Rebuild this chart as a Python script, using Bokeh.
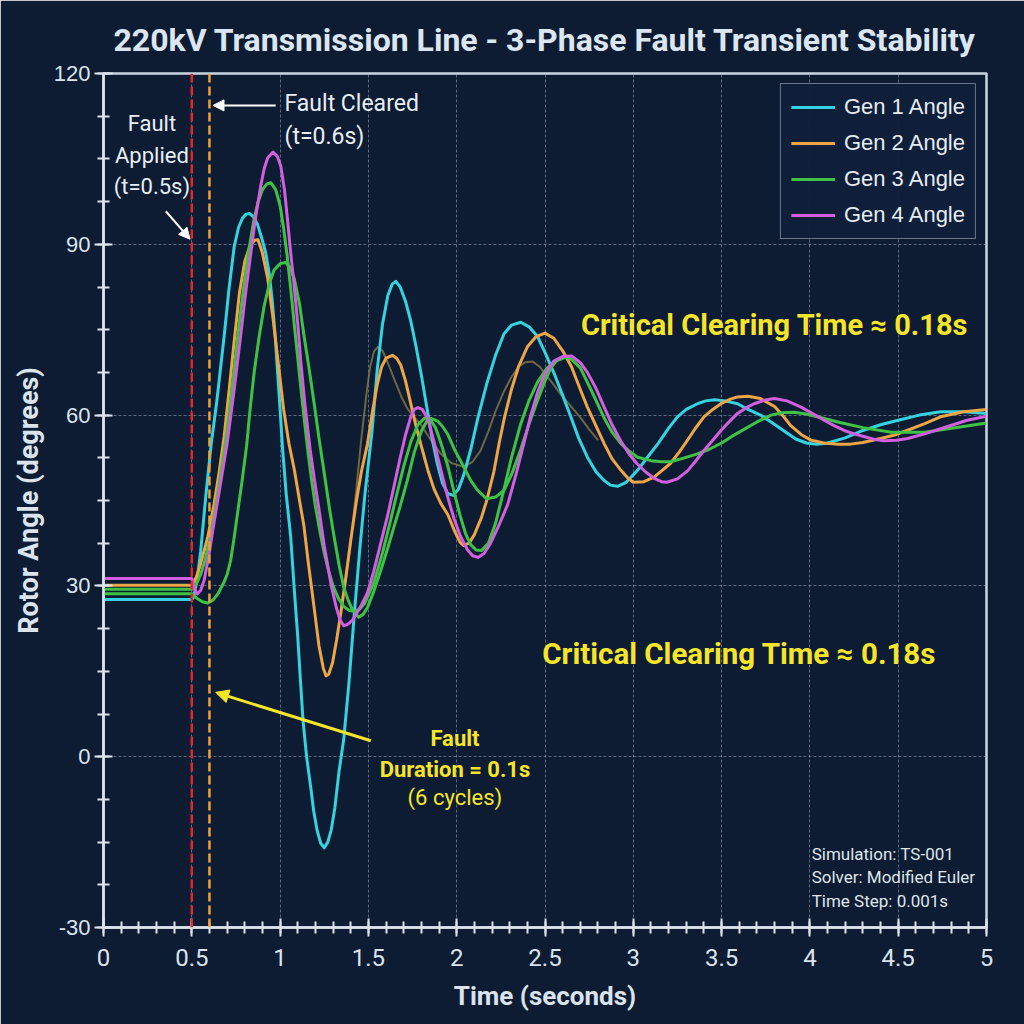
from bokeh.plotting import figure
from bokeh.models import (Legend, LegendItem, Span, Label, Arrow, NormalHead,
                          FixedTicker, Range1d, NumeralTickFormatter)
from bokeh.embed import file_html
from bokeh.resources import INLINE

# ---- rotor angle traces (time in s, angle in degrees) ----
gen1_t = [0, 0.50, 0.51, 0.53, 0.55, 0.58, 0.61, 0.64, 0.683, 0.71, 0.74, 0.765,
          0.787, 0.808, 0.828, 0.85, 0.872, 0.895, 0.919, 0.94, 0.957, 0.972, 0.985,
          1.0, 1.013, 1.035, 1.06, 1.08, 1.10, 1.115, 1.13, 1.15, 1.174, 1.19, 1.21,
          1.23, 1.25, 1.27, 1.29, 1.31, 1.334, 1.36, 1.39, 1.42, 1.45, 1.48, 1.52,
          1.55, 1.58, 1.61, 1.635, 1.655, 1.68, 1.71, 1.74, 1.77, 1.80, 1.83, 1.86,
          1.89, 1.92, 1.95, 1.98, 2.01, 2.04, 2.08, 2.12, 2.17, 2.22, 2.268, 2.31,
          2.363, 2.41, 2.458, 2.50, 2.552, 2.60, 2.646, 2.69, 2.74, 2.79, 2.835,
          2.87, 2.91, 2.96, 3.024, 3.08, 3.14, 3.20, 3.25, 3.30, 3.363, 3.41, 3.46,
          3.52, 3.59, 3.65, 3.72, 3.78, 3.85, 3.92, 3.98, 4.04, 4.10, 4.20, 4.30,
          4.40, 4.50, 4.62, 4.74, 4.87, 5.00]
gen1_a = [27.6, 27.6, 28, 31, 36, 46, 55, 62, 73.8, 82, 89.6, 93,
          94.6, 95.3, 95.4, 94.8, 93.5, 91.2, 88.4, 84.5, 79.6, 74, 67.9,
          61, 54.5, 46, 38.6, 29.5, 21, 13.5, 6.3, 0, -5.5, -9.5, -13,
          -15.2, -16, -15, -12.8, -9, -2.5, 3, 13, 25, 36, 46, 57,
          68, 76, 81, 83, 83.5, 82.5, 80, 76.5, 72, 67, 61.5, 56,
          51.5, 48, 46.2, 45.9, 47, 49.5, 54, 59.5, 65.5, 70.5, 74.3, 75.8,
          76.3, 75.5, 73.8, 71, 67.3, 63.5, 59.7, 56, 52.6, 50, 48.5,
          47.7, 47.5, 48.2, 50.3, 52.6, 55, 57.7, 59.7, 61, 62, 62.5, 62.7,
          62.5, 62, 61, 60, 58.8, 57.3, 55.8, 55.1, 54.9, 55.1, 56, 57.3,
          58.3, 59.1, 60, 60.6, 60.6, 60.3]

gen2_t = [0, 0.50, 0.525, 0.55, 0.59, 0.626, 0.655, 0.683, 0.71, 0.74, 0.77, 0.80,
          0.83, 0.855, 0.875, 0.90, 0.93, 0.96, 0.99, 1.02, 1.05, 1.08, 1.11,
          1.135, 1.16, 1.19, 1.22, 1.245, 1.26, 1.275, 1.297, 1.32, 1.345, 1.37,
          1.40, 1.43, 1.46, 1.495, 1.525, 1.551, 1.575, 1.60, 1.636, 1.66, 1.683,
          1.71, 1.74, 1.77, 1.80, 1.84, 1.872, 1.91, 1.95, 1.99, 2.02, 2.04, 2.07,
          2.10, 2.14, 2.17, 2.21, 2.24, 2.27, 2.31, 2.35, 2.40, 2.45, 2.50, 2.55,
          2.60, 2.65, 2.70, 2.74, 2.79, 2.835, 2.88, 2.93, 2.97, 3.00, 3.06, 3.118,
          3.16, 3.21, 3.26, 3.307, 3.35, 3.40, 3.45, 3.496, 3.55, 3.59, 3.65, 3.72,
          3.80, 3.85, 3.89, 3.95, 4.006, 4.08, 4.16, 4.23, 4.30, 4.40, 4.48, 4.55,
          4.65, 4.74, 4.87, 5.00]
gen2_a = [30.1, 30.1, 31.5, 33.9, 38.5, 44.4, 50, 56.2, 64, 73, 81.5, 87,
          89.8, 90.7, 90.8, 88.5, 84, 77, 69, 61, 55, 50.5, 45,
          40.5, 34, 26.8, 19.5, 15.5, 14.2, 14.5, 16.5, 20.5, 25.5, 31,
          38, 44.5, 50, 55, 61, 65.5, 68.5, 70, 70.5, 70, 68.8,
          66, 62, 58, 54.5, 50, 47, 44.5, 42.5, 39.5, 37.6, 37.1, 37.5,
          39, 42, 45, 50, 55, 59.5, 64.5, 68.5, 72, 73.8, 74.4, 73.5,
          71.3, 68.5, 64.5, 61.4, 58, 55, 52.3, 50.3, 48.9, 48.2, 48.3, 49.1,
          50.2, 51.5, 53.5, 55.6, 57.6, 59.7, 61, 62, 62.8, 63.2, 63.3, 62.9,
          61.5, 59.8, 58.2, 56.6, 55.6, 55.1, 54.9, 54.9, 55.2, 55.9, 56.5, 57.3,
          58.5, 59.7, 60.6, 61]

gen3_t = [0, 0.50, 0.53, 0.56, 0.59, 0.62, 0.65, 0.68, 0.70, 0.72, 0.74, 0.76,
          0.785, 0.81, 0.83, 0.853, 0.88, 0.91, 0.94, 0.966, 1.00, 1.03, 1.055,
          1.08, 1.11, 1.136, 1.165, 1.193, 1.22, 1.249, 1.28, 1.306, 1.335, 1.36,
          1.385, 1.41, 1.445, 1.47, 1.495, 1.53, 1.57, 1.61, 1.646, 1.68, 1.72,
          1.76, 1.80, 1.83, 1.855, 1.89, 1.92, 1.948, 1.99, 2.04, 2.08, 2.118,
          2.17, 2.22, 2.268, 2.31, 2.363, 2.41, 2.458, 2.50, 2.533, 2.57, 2.61,
          2.65, 2.70, 2.76, 2.835, 2.88, 2.93, 2.98, 3.024, 3.10, 3.16, 3.21,
          3.28, 3.363, 3.43, 3.50, 3.56, 3.627, 3.70, 3.78, 3.84, 3.91, 3.98,
          4.07, 4.17, 4.30, 4.46, 4.65, 4.85, 5.00]
gen3_a = [28.6, 28.6, 27.8, 27.2, 27, 27.5, 28.7, 30.5, 32, 34.5, 38.5, 43,
          48.5, 54.5, 61, 67.5, 73.5, 79.2, 83.2, 85.5, 86.6, 86.8, 86,
          84, 79.5, 73.8, 68, 62, 56, 50, 43.5, 38.6, 33.5, 29.8,
          27.5, 25.8, 24.5, 25, 26.2, 29, 32.7, 36.7, 40.5, 44, 48.5,
          53.5, 57.2, 58.9, 59.4, 59, 58, 56.7, 53.8, 50.9, 48.5, 46.8,
          45.3, 45.6, 46.8, 49.5, 54, 58.5, 62.6, 66, 68.3, 69.7, 70.2,
          69.8, 68.3, 64.5, 59.5, 57, 55, 53.6, 52.6, 52, 51.8, 51.8,
          52.4, 53.2, 54, 55.1, 56.3, 57.5, 58.8, 60, 60.4, 60.5, 60.2,
          59.5, 58.7, 57.8, 57, 57, 57.9, 58.6]

gen4_t = [0, 0.50, 0.515, 0.53, 0.55, 0.57, 0.60, 0.62, 0.66, 0.70, 0.74, 0.777,
          0.805, 0.834, 0.86, 0.89, 0.91, 0.93, 0.96, 0.985, 1.004, 1.025, 1.042,
          1.06, 1.08, 1.10, 1.117, 1.14, 1.17, 1.195, 1.22, 1.25, 1.29, 1.32, 1.34,
          1.36, 1.385, 1.41, 1.43, 1.46, 1.495, 1.53, 1.57, 1.61, 1.645, 1.68,
          1.71, 1.74, 1.76, 1.78, 1.805, 1.835, 1.87, 1.91, 1.95, 1.985, 2.02,
          2.06, 2.09, 2.12, 2.155, 2.19, 2.24, 2.29, 2.335, 2.38, 2.42, 2.46, 2.50,
          2.55, 2.60, 2.65, 2.70, 2.74, 2.79, 2.835, 2.88, 2.93, 2.975, 3.02,
          3.07, 3.118, 3.16, 3.19, 3.25, 3.307, 3.35, 3.40, 3.45, 3.496, 3.545,
          3.59, 3.64, 3.684, 3.74, 3.80, 3.87, 3.95, 4.02, 4.08, 4.14, 4.194,
          4.25, 4.31, 4.37, 4.42, 4.49, 4.553, 4.65, 4.74, 4.82, 4.89, 5.00]
gen4_a = [31.3, 31.3, 29.5, 28.6, 29.2, 31, 36, 40, 47.5, 55, 64.5, 74,
          81.5, 88.4, 94.5, 100.2, 103.3, 105.2, 106.2, 105.4, 103.7, 99.5, 94.3,
          88.5, 82.6, 76, 69.5, 62, 54, 48.5, 43.5, 37, 30, 26, 24,
          23, 23.3, 24, 25, 26.6, 28.8, 32.5, 37.5, 42.5, 47.5, 52.5,
          56.5, 59.7, 61, 61.3, 61, 59.5, 55.5, 50.4, 45.5, 41.8, 38.8,
          36.4, 35.3, 35, 35.7, 37.4, 40.7, 44.4, 49.5, 55, 60, 64.2, 67.3,
          69.5, 70.3, 70.4, 69.2, 67.5, 64.6, 61.4, 58.3, 55.4, 53.2, 51.5,
          50, 48.9, 48.3, 48.2, 48.8, 50.2, 51.8, 53.8, 55.6, 57.3, 58.9,
          60.3, 61.3, 62, 62.6, 62.9, 62.5, 61.4, 60.2, 59.1, 58.1, 57.3,
          56.7, 56.2, 55.7, 55.5, 55.6, 55.9, 56.7, 57.6, 58.4, 59.1, 59.8]

# second green swing of the Gen 3 machine group (unlabelled)
gen3b_t = [0, 0.50, 0.525, 0.55, 0.575, 0.60, 0.625, 0.65, 0.675, 0.70, 0.725, 0.75,
           0.775, 0.80, 0.825, 0.85, 0.875, 0.90, 0.925, 0.948, 0.975, 1.00, 1.02,
           1.04, 1.06, 1.08, 1.10, 1.12, 1.14, 1.16, 1.18, 1.20, 1.225, 1.25, 1.275,
           1.30, 1.33, 1.36, 1.39, 1.42, 1.45, 1.48, 1.53, 1.58, 1.62, 1.66, 1.70,
           1.74, 1.78, 1.82, 1.85, 1.88, 1.91, 1.95, 1.985, 2.02, 2.05, 2.08, 2.11,
           2.14, 2.18, 2.22, 2.268, 2.31, 2.36, 2.41, 2.458, 2.51, 2.56, 2.62]
gen3b_a = [29.4, 29.4, 30.3, 32, 34.5, 38, 42.2, 47, 52, 57.5, 64, 71,
           77.8, 84, 89.4, 94, 97.4, 99.6, 100.6, 100.8, 99.6, 96.8, 92.8,
           88, 82.2, 76, 70, 64, 58.3, 53, 48.2, 44, 39.6, 35.8, 32.6,
           30, 27.8, 26.4, 25.7, 25.5, 25.9, 27, 30.5, 35.8, 40.8, 46, 51,
           55.3, 58.3, 59.5, 59.2, 57.8, 55.2, 51, 46.5, 42.3, 39.2, 37.2, 36.3,
           36.2, 37.5, 41, 47, 52.5, 58.2, 62.6, 65.8, 68.2, 69.5, 70.2]

# faint trace of the tie-line swing
tie_t = [1.345, 1.37, 1.40, 1.43, 1.457, 1.49, 1.51, 1.532, 1.555, 1.58, 1.615, 1.65,
         1.69, 1.72, 1.76, 1.797, 1.85, 1.91, 1.97, 2.04, 2.09, 2.136, 2.18, 2.22,
         2.268, 2.31, 2.35, 2.39, 2.43, 2.47, 2.50, 2.55, 2.59, 2.64, 2.70, 2.75, 2.80]
tie_a = [26.2, 30.5, 37.5, 46.5, 55, 64, 68.5, 71.2, 72, 71.3, 68.8, 66,
         63, 61.2, 59.6, 58.3, 55.8, 53.2, 51.6, 50.9, 51.8, 53.8, 57.2, 60.7,
         64.2, 66.7, 68.5, 69.3, 69.4, 68.5, 67.3, 65.3, 63.6, 61.8, 59.6, 57.5, 55.6]

series_names = ["Gen 1 Angle", "Gen 2 Angle", "Gen 3 Angle", "Gen 4 Angle"]
series_colors = ["#35d2df", "#eda545", "#3fc243", "#d35ede"]

x_ticks = [0, 0.5, 1, 1.5, 2, 2.5, 3, 3.5, 4, 4.5, 5]
y_ticks = [-30, 0, 30, 60, 90, 120]

fault_on = 0.5
fault_off = 0.6

BG = "#0e1c33"
FG = "#dbe4ee"
YEL = "#f6e52a"
COND = "Roboto"
SANS = "Liberation Sans"

p = figure(width=1024, height=1024, x_range=Range1d(0, 5), y_range=Range1d(-30, 120),
           output_backend="svg", toolbar_location=None,
           background_fill_color=BG, border_fill_color=BG,
           min_border_left=103, min_border_right=38, min_border_top=73,
           min_border_bottom=97)

p.title.text = "220kV Transmission Line - 3-Phase Fault Transient Stability"
p.title.align = "center"
p.title.text_font = COND
p.title.text_font_size = "32px"
p.title.text_font_style = "bold"
p.title.text_color = "#dce6f1"
p.title.standoff = 29
p.title.offset = 6

p.outline_line_color = "#c9d5e2"
p.outline_line_width = 2.5

minor_x = [i / 10 for i in range(0, 51)]
minor_y = [-30 + 7.5 * i for i in range(0, 21)]
p.xaxis.ticker = FixedTicker(ticks=x_ticks, minor_ticks=minor_x)
p.yaxis.ticker = FixedTicker(ticks=y_ticks, minor_ticks=minor_y)
p.xaxis.formatter = NumeralTickFormatter(format="0.[0]")
p.yaxis.formatter = NumeralTickFormatter(format="0")

for ax in (p.xaxis, p.yaxis):
    ax.axis_line_color = FG
    ax.axis_line_width = 2.5
    ax.major_tick_line_color = FG
    ax.major_tick_line_width = 2
    ax.minor_tick_line_color = FG
    ax.minor_tick_line_width = 2
    ax.major_tick_in = 9
    ax.major_tick_out = 9
    ax.minor_tick_in = 6
    ax.minor_tick_out = 6
    ax.major_label_text_color = FG
    ax.axis_label_text_color = FG
    ax.axis_label_text_font = COND
    ax.axis_label_text_font_style = "bold"

p.xaxis.major_label_text_font = COND
p.xaxis.major_label_text_font_size = "24px"
p.xaxis.major_label_standoff = 12
p.yaxis.major_label_text_font = SANS
p.yaxis.major_label_text_font_size = "22px"
p.yaxis.major_label_standoff = 4
p.xaxis.axis_label = "Time (seconds)"
p.yaxis.axis_label = "Rotor Angle (degrees)"
p.xaxis.axis_label_text_font_size = "26px"
p.yaxis.axis_label_text_font_size = "27px"
p.xaxis.axis_label_standoff = 12
p.yaxis.axis_label_standoff = 6

p.xgrid.ticker = FixedTicker(ticks=x_ticks)
p.ygrid.ticker = FixedTicker(ticks=y_ticks)
for g in (p.xgrid, p.ygrid):
    g.grid_line_color = "#9aa9bd"
    g.grid_line_alpha = 0.55
    g.grid_line_dash = "3 2"
    g.grid_line_width = 1

# fault markers
p.add_layout(Span(location=fault_on, dimension="height", line_color="#e3262c",
                  line_dash="9 4", line_width=2.5))
p.add_layout(Span(location=fault_off, dimension="height", line_color="#f0a236",
                  line_dash="9 4", line_width=2.5))

p.line(tie_t, tie_a, line_color="#8e7f48", line_width=2, line_alpha=0.75)

renderers = []
for (t, a), name, col in zip([(gen1_t, gen1_a), (gen2_t, gen2_a), (gen3_t, gen3_a),
                              (gen4_t, gen4_a)], series_names, series_colors):
    r = p.line(t, a, line_color=col, line_width=3, line_join="round")
    renderers.append(r)
    if name == "Gen 3 Angle":
        p.line(gen3b_t, gen3b_a, line_color=col, line_width=3, line_join="round")

legend = Legend(items=[LegendItem(label=n, renderers=[r]) for n, r in zip(series_names, renderers)],
                location="top_right")
legend.label_text_font = SANS
legend.label_text_font_size = "22px"
legend.label_text_color = "#e6ecf3"
legend.background_fill_color = "#10203a"
legend.background_fill_alpha = 0.95
legend.border_line_color = "#c5d0dc"
legend.border_line_width = 1.5
legend.glyph_width = 44
legend.glyph_height = 26
legend.label_height = 26
legend.spacing = 10
legend.padding = 10
legend.margin = 10
legend.label_standoff = 9
p.add_layout(legend)

# annotations
def label(x, y, text, color, size, bold=False, align="center", font=COND):
    p.add_layout(Label(x=x, y=y, text=text, text_color=color, text_font=font,
                       text_font_size=size, text_font_style="bold" if bold else "normal",
                       text_align=align, text_baseline="middle"))

WHITE = "#e8eef5"
label(0.274, 111.3, "Fault", WHITE, "22px")
label(0.274, 105.6, "Applied", WHITE, "22px")
label(0.274, 100.2, "(t=0.5s)", WHITE, "22px")
p.add_layout(Arrow(end=NormalHead(size=11, fill_color="white", line_color="white"),
                   x_start=0.353, y_start=95.8, x_end=0.49, y_end=90.9,
                   line_color="white", line_width=2))

label(1.025, 114.8, "Fault Cleared", WHITE, "23px", align="left")
label(1.025, 109.0, "(t=0.6s)", WHITE, "23px", align="left")
p.add_layout(Arrow(end=NormalHead(size=11, fill_color="white", line_color="white"),
                   x_start=0.975, y_start=114.4, x_end=0.62, y_end=114.4,
                   line_color="white", line_width=2))

p.add_layout(Arrow(end=NormalHead(size=13, fill_color=YEL, line_color=YEL),
                   x_start=1.514, y_start=2.8, x_end=0.635, y_end=11.3,
                   line_color=YEL, line_width=3))
label(1.99, 3.2, "Fault", YEL, "22px", bold=True)
label(1.99, -2.3, "Duration = 0.1s", YEL, "22px", bold=True)
label(1.99, -7.2, "(6 cycles)", YEL, "22px")

label(3.80, 75.9, "Critical Clearing Time \u2248 0.18s", YEL, "29px", bold=True)
label(3.60, 18.1, "Critical Clearing Time \u2248 0.18s", YEL, "29.5px", bold=True)

NOTE = "#dfe5ec"
label(4.01, -17.1, "Simulation: TS-001", NOTE, "17px", align="left")
label(4.01, -21.2, "Solver: Modified Euler", NOTE, "17px", align="left")
label(4.01, -25.3, "Time Step: 0.001s", NOTE, "17px", align="left")

open("out.html", "w").write(file_html(p, INLINE))
